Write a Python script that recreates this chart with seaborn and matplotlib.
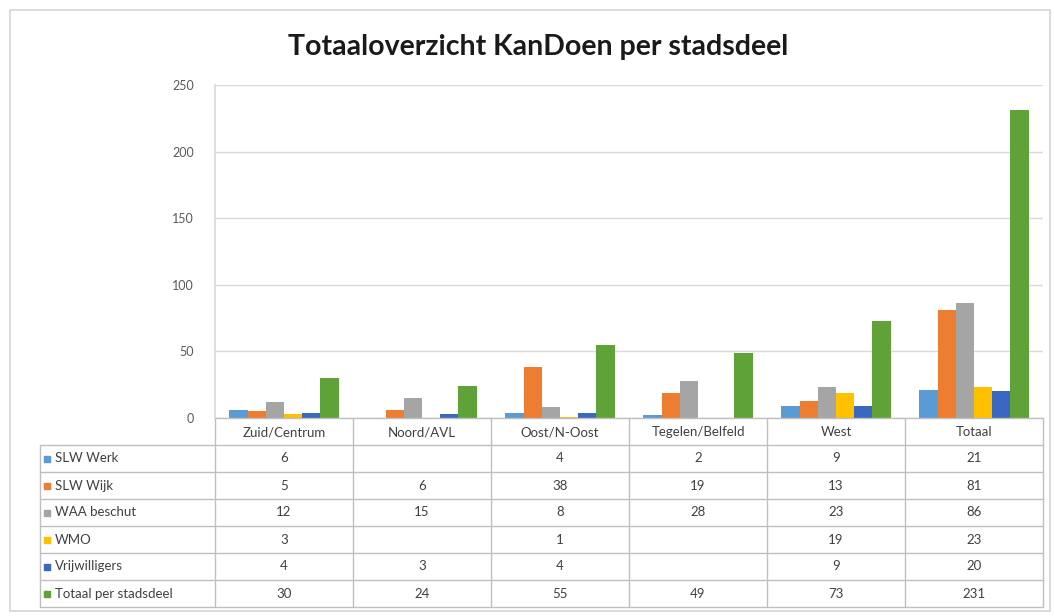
import numpy as np
import pandas as pd
import matplotlib
matplotlib.use("Agg")
import matplotlib.pyplot as plt
import seaborn as sns
from matplotlib.patches import Rectangle

# ---------------- data ----------------
categories = ["Zuid/Centrum", "Noord/AVL", "Oost/N-Oost", "Tegelen/Belfeld", "West", "Totaal"]
series_names = ["SLW Werk", "SLW Wijk", "WAA beschut", "WMO", "Vrijwilligers", "Totaal per stadsdeel"]
slw_werk = [6, np.nan, 4, 2, 9, 21]
slw_wijk = [5, 6, 38, 19, 13, 81]
waa_beschut = [12, 15, 8, 28, 23, 86]
wmo = [3, np.nan, 1, np.nan, 19, 23]
vrijwilligers = [4, 3, 4, np.nan, 9, 20]
totaal_per_stadsdeel = [30, 24, 55, 49, 73, 231]
y_ticks = [0, 50, 100, 150, 200, 250]
title = "Totaaloverzicht KanDoen per stadsdeel"

colors = ["#5B9BD5", "#ED7D31", "#A5A5A5", "#FFC000", "#3A67C0", "#5FA338"]

series_values = [slw_werk, slw_wijk, waa_beschut, wmo, vrijwilligers, totaal_per_stadsdeel]
rows = []
for name, vals in zip(series_names, series_values):
    for cat, v in zip(categories, vals):
        rows.append({"stadsdeel": cat, "reeks": name, "aantal": v})
df = pd.DataFrame(rows)

# ---------------- figure ----------------
sns.set_theme(style="white")
plt.rcParams["font.family"] = ["Lato", "DejaVu Sans"]

W, H = 1054, 616
fig = plt.figure(figsize=(W / 100, H / 100), dpi=100)
fig.patch.set_facecolor("white")

# outer chart frame
fig.add_artist(Rectangle((10 / W, 1 - 611 / H), 1040 / W, 601 / H, transform=fig.transFigure,
                         fill=False, edgecolor="#D4D4D4", linewidth=1.2))

ax_left, ax_right, ax_top, ax_bottom = 215, 1043, 85, 418
ax = fig.add_axes([ax_left / W, 1 - ax_bottom / H, (ax_right - ax_left) / W, (ax_bottom - ax_top) / H])

sns.barplot(data=df, x="stadsdeel", y="aantal", hue="reeks", order=categories,
            hue_order=series_names, palette=colors, width=0.79, saturation=1,
            legend=False, ax=ax, linewidth=0, errorbar=None)

ax.set_xlim(-0.5, len(categories) - 0.5)
ax.set_ylim(0, 250)
ax.set_yticks(y_ticks)
ax.set_yticklabels([str(t) for t in y_ticks], fontsize=9, color="#595959")
ax.tick_params(axis="y", length=0, pad=15)
ax.yaxis.grid(True, color="#D9D9D9", linewidth=1)
ax.set_axisbelow(True)
for s in ["top", "right", "bottom"]:
    ax.spines[s].set_visible(False)
ax.spines["left"].set_color("#D9D9D9")
ax.set_xlabel("")
ax.set_ylabel("")

# category labels form the header row of the data table
ax.set_xticks(range(len(categories)))
ax.set_xticklabels(categories, fontsize=9.5, color="#404040")
ax.tick_params(axis="x", length=0, pad=6)

# ---------------- data table ----------------
ax_h = ax_bottom - ax_top
row_h = 27 / ax_h
label_left = (40 - ax_left) / (ax_right - ax_left)
line_col = "#BFBFBF"
n_rows = len(series_names)
tr_axes = ax.transAxes
tr_x = ax.get_xaxis_transform()

# horizontal lines
ax.plot([0, 1], [0, 0], transform=tr_axes, color=line_col, lw=1, clip_on=False)
for r in range(1, n_rows + 2):
    y = -r * row_h
    ax.plot([label_left, 1], [y, y], transform=tr_axes, color=line_col, lw=1, clip_on=False)
# vertical lines
for i in range(len(categories) + 1):
    ax.plot([i - 0.5, i - 0.5], [0, -(n_rows + 1) * row_h], transform=tr_x,
            color=line_col, lw=1, clip_on=False)
ax.plot([label_left, label_left], [-row_h, -(n_rows + 1) * row_h], transform=tr_axes,
        color=line_col, lw=1, clip_on=False)

# row labels with legend keys, and values
for r, (name, vals, col) in enumerate(zip(series_names, series_values, colors)):
    yc = -(r + 1.5) * row_h
    ax.scatter([label_left + 0.009], [yc], transform=tr_axes, marker="s", s=14,
               color=col, clip_on=False, zorder=5)
    ax.text(label_left + 0.018, yc, name, transform=tr_axes, ha="left", va="center",
            fontsize=9.5, color="#404040")
    for i, v in enumerate(vals):
        if not np.isnan(v):
            ax.text(i, yc, f"{int(v)}", transform=tr_x, ha="center", va="center",
                    fontsize=9.5, color="#404040")

fig.text(538 / W, 1 - 47 / H, title, ha="center", va="center", fontsize=20.5,
         fontweight="bold", color="#1a1a1a")

fig.savefig("out.png", dpi=100)
